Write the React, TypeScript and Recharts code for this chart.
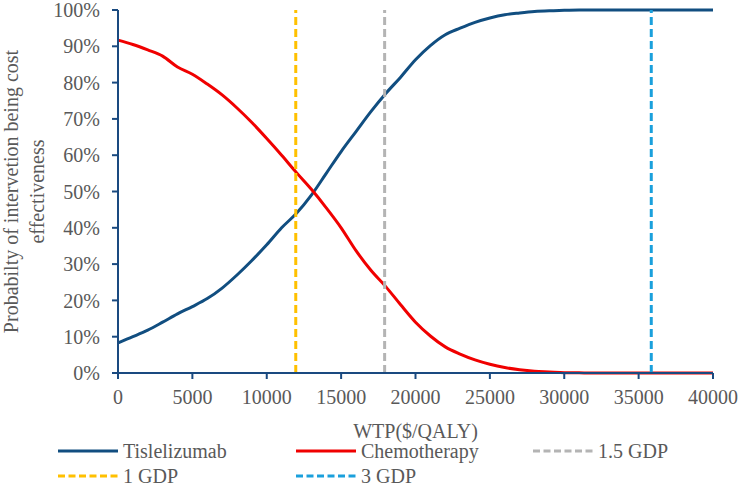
import React from 'react';
import { LineChart, Line, XAxis, YAxis, ReferenceLine, Legend } from 'recharts';

const wtp = [
  0, 1000, 2000, 3000, 4000, 5000, 6000, 7000, 8000, 9000, 10000, 11000, 12000, 13000,
  14000, 15000, 16000, 17000, 18000, 19000, 20000, 21000, 22000, 23000, 24000, 25000,
  26000, 27000, 28000, 29000, 30000, 31000, 32000, 33000, 34000, 35000, 36000, 37000,
  38000, 39000, 40000,
];
const tislelizumab = [
  8.3, 10.0, 11.8, 14.0, 16.3, 18.3, 20.5, 23.4, 27.0, 31.0, 35.3, 40.0, 44.0, 49.0,
  55.0, 61.0, 66.5, 72.0, 77.0, 81.5, 86.3, 90.2, 93.2, 95.0, 96.6, 97.8, 98.7, 99.2,
  99.6, 99.8, 99.9, 100, 100, 100, 100, 100, 100, 100, 100, 100, 100,
];
const chemotherapy = [
  91.7, 90.5, 89.0, 87.3, 84.3, 82.3, 79.6, 76.6, 73.0, 69.0, 64.6, 60.0, 55.2, 50.6,
  45.5, 40.0, 33.7, 28.3, 23.8, 18.8, 14.0, 10.2, 7.2, 5.2, 3.6, 2.4, 1.5, 0.9, 0.5,
  0.3, 0.1, 0.05, 0, 0, 0, 0, 0, 0, 0, 0, 0,
];
const xTicks = [0, 5000, 10000, 15000, 20000, 25000, 30000, 35000, 40000];
const yTicks = [0, 10, 20, 30, 40, 50, 60, 70, 80, 90, 100];
const gdpLines = [
  { name: '1 GDP', x: 11950, color: '#FFC000' },
  { name: '1.5 GDP', x: 17925, color: '#B4B4B4' },
  { name: '3 GDP', x: 35850, color: '#1AA0DC' },
];

const FONT = 'Liberation Serif, serif';
const TEXT = '#595959';
const AXIS = '#1A4A80';
const BLUE = '#114E80';
const RED = '#F00000';

const rows = wtp.map((w, i) => ({ wtp: w, tis: tislelizumab[i], chemo: chemotherapy[i] }));

// legend sits in the 40px strip under the x axis title
const legendItems = [
  { label: 'Tislelizumab', color: BLUE, dashed: false, left: 58, top: 5 },
  { label: 'Chemotherapy', color: RED, dashed: false, left: 296, top: 5 },
  { label: '1.5 GDP', color: gdpLines[1].color, dashed: true, left: 533, top: 5 },
  { label: '1 GDP', color: gdpLines[0].color, dashed: true, left: 58, top: 30 },
  { label: '3 GDP', color: gdpLines[2].color, dashed: true, left: 296, top: 30 },
];

function LegendBox() {
  return (
    <div style={{ position: 'relative', width: 740, height: 40 }}>
      {legendItems.map((it) => (
        <div
          key={it.label}
          style={{
            position: 'absolute',
            left: it.left,
            top: it.top - 8,
            height: 16,
            lineHeight: '16px',
            display: 'flex',
            alignItems: 'center',
            fontFamily: FONT,
            fontSize: 20,
            color: TEXT,
            whiteSpace: 'nowrap',
          }}
        >
          <svg width={62} height={8} style={{ marginRight: 3 }}>
            <line
              x1={0}
              x2={60}
              y1={4}
              y2={4}
              stroke={it.color}
              strokeWidth={3}
              strokeDasharray={it.dashed ? '7 3.5' : undefined}
            />
          </svg>
          {it.label}
        </div>
      ))}
    </div>
  );
}

function YTitle() {
  const cy = 10 + 363 / 2;
  return (
    <text
      transform={`rotate(-90, 0, ${cy})`}
      x={0}
      y={cy}
      textAnchor="middle"
      fill={TEXT}
      fontFamily={FONT}
      fontSize={20}
    >
      <tspan x={0} dy={18}>Probabilty of intervetion being cost</tspan>
      <tspan x={0} dy={26}>effectiveness</tspan>
    </text>
  );
}

function XTitle(props: any) {
  const vb = props.viewBox || { x: 118, width: 595, y: 373 };
  return (
    <text
      x={vb.x + vb.width / 2}
      y={431}
      textAnchor="middle"
      dominantBaseline="central"
      fill={TEXT}
      fontFamily={FONT}
      fontSize={20}
    >
      WTP($/QALY)
    </text>
  );
}

export default function App() {
  return (
    <div style={{ position: 'absolute', left: 0, top: 0, width: 740, height: 486, background: '#fff', fontFamily: FONT }}>
      <LineChart width={740} height={486} data={rows} margin={{ top: 10, right: 27, bottom: 0, left: 0 }}>
        <XAxis
          dataKey="wtp"
          type="number"
          domain={[0, 40000]}
          ticks={xTicks}
          interval={0}
          height={73}
          tickSize={6}
          tickMargin={11}
          axisLine={{ stroke: AXIS, strokeWidth: 2 }}
          tickLine={{ stroke: AXIS, strokeWidth: 2 }}
          tick={{ fill: TEXT, fontSize: 20, fontFamily: FONT }}
          label={<XTitle />}
        />
        <YAxis
          type="number"
          domain={[0, 100]}
          ticks={yTicks}
          interval={0}
          width={118}
          tickSize={6}
          tickMargin={12}
          tickFormatter={(v: number) => `${v}%`}
          axisLine={{ stroke: AXIS, strokeWidth: 2 }}
          tickLine={{ stroke: AXIS, strokeWidth: 2 }}
          tick={{ fill: TEXT, fontSize: 20, fontFamily: FONT }}
          label={<YTitle />}
        />
        <Line
          type="monotone"
          dataKey="tis"
          name="Tislelizumab"
          stroke={BLUE}
          strokeWidth={3}
          dot={false}
          isAnimationActive={false}
        />
        <Line
          type="monotone"
          dataKey="chemo"
          name="Chemotherapy"
          stroke={RED}
          strokeWidth={3}
          dot={false}
          isAnimationActive={false}
        />
        {gdpLines.map((g) => (
          <ReferenceLine
            key={g.name}
            x={g.x}
            stroke={g.color}
            strokeWidth={3}
            strokeDasharray="8 4"
          />
        ))}
        <Legend verticalAlign="bottom" align="left" content={() => <LegendBox />} />
      </LineChart>
    </div>
  );
}
